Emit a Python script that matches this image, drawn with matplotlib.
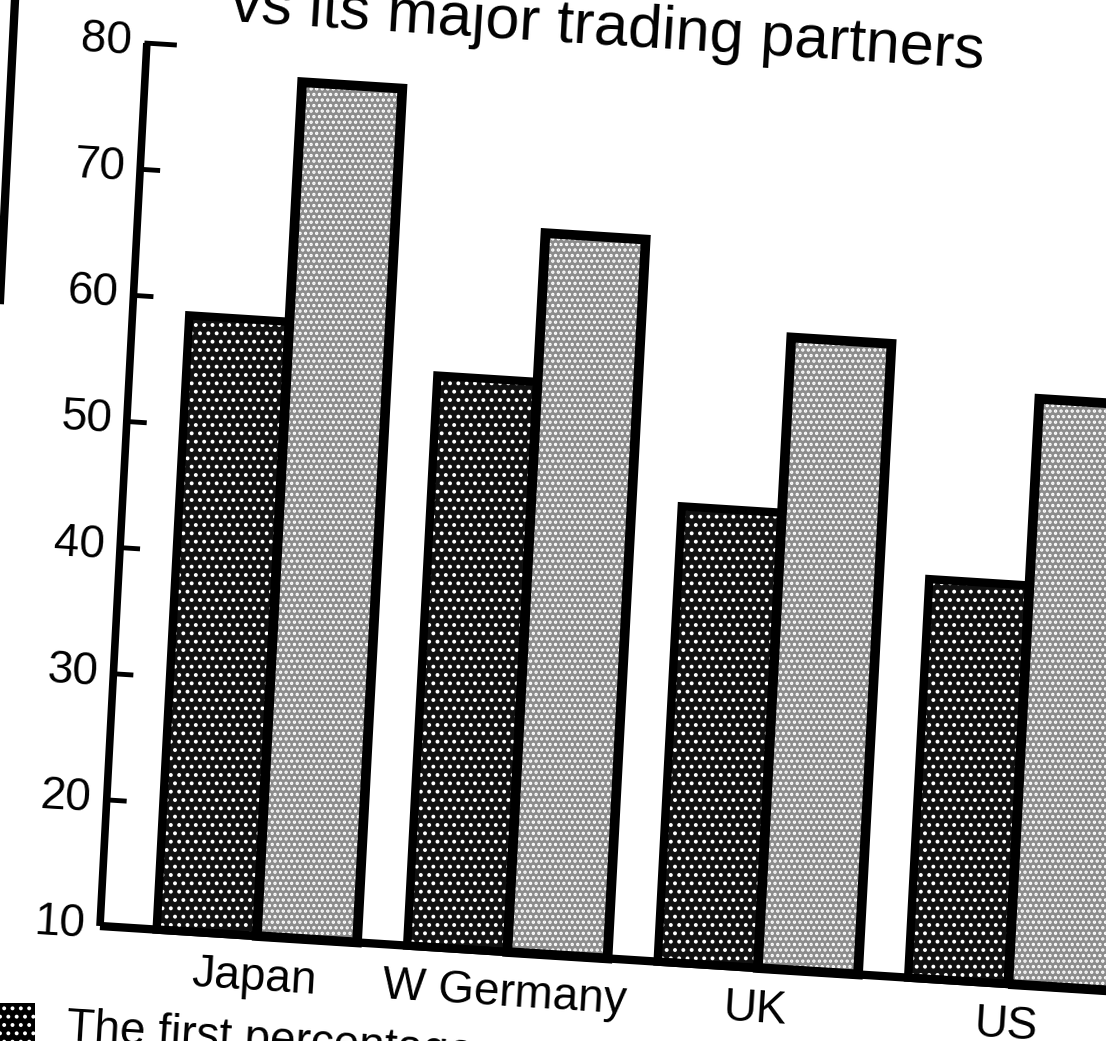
import matplotlib
matplotlib.use("Agg")
import matplotlib.pyplot as plt
from matplotlib.transforms import Affine2D
from matplotlib.patches import Rectangle
from matplotlib.lines import Line2D
import numpy as np

plt.rcParams['font.family'] = ['Liberation Sans', 'DejaVu Sans']
plt.rcParams['hatch.linewidth'] = 1.6

countries = ["Japan", "W Germany", "UK", "US"]
first = [58.7, 55.2, 46.1, 41.6]     # dark bars
second = [77.7, 67.0, 60.0, 56.4]    # light bars
yticks = [10, 20, 30, 40, 50, 60, 70, 80]

W, H = 1106, 1041
fig = plt.figure(figsize=(W / 100, H / 100), dpi=100)
ax = fig.add_axes([0, 0, 1, 1])
ax.axis('off')

# the scan is a bit askew, so everything goes through a small tilt
ox, oy = 100, H - 926          # pixel spot of the axis corner
xpx, ypx = 251, 12.63          # pixels per unit
x_axis = -0.626
ax.set_xlim(x_axis - ox / xpx, x_axis + (W - ox) / xpx)
ax.set_ylim(10 - oy / ypx, 10 + (H - oy) / ypx)

skew = Affine2D(np.array([[0.998, 0.053, 0], [-0.0638, 0.9986, 0], [0, 0, 1]]))
tilt = Affine2D().translate(-ox, -oy) + skew + Affine2D().translate(ox, oy)
T = ax.transData + tilt
rot = -3.6

x = np.arange(len(countries))
w = 0.4
d = np.array(first) - 10
l = np.array(second) - 10

ax.bar(x - w / 2, d, w, bottom=10, color='#111111', edgecolor='white', hatch='..',
       lw=0, transform=T, clip_on=False)
ax.bar(x + w / 2, l, w, bottom=10, color='#8c8c8c', edgecolor='white', hatch='...',
       lw=0, transform=T, clip_on=False)
ax.bar(x - w / 2, d, w, bottom=10, fill=False, edgecolor='black', lw=6,
       transform=T, clip_on=False)
ax.bar(x + w / 2, l, w, bottom=10, fill=False, edgecolor='black', lw=7,
       transform=T, clip_on=False)

# axis line, baseline and ticks
ax.plot([x_axis, x_axis], [yticks[0], yticks[-1]], color='black', lw=5.5,
        solid_capstyle='butt', transform=T, clip_on=False)
ax.plot([x_axis, ax.get_xlim()[1] + 0.5], [10, 10], color='black', lw=6,
        solid_capstyle='butt', transform=T, clip_on=False)
for t in yticks:
    tl = 0.11 if t == 80 else 0.07
    if t > 10:
        ax.plot([x_axis, x_axis + tl], [t, t], color='black', lw=3.5,
                transform=T, clip_on=False)
    ax.text(x_axis - 0.06, t, str(t), ha='right', va='center', fontsize=33,
            rotation=rot, rotation_mode='anchor', transform=T)

for i, c in enumerate(countries):
    ax.text(x[i], 10 - 1.6, c, ha='center', va='top', fontsize=33,
            rotation=rot, rotation_mode='anchor', transform=T)

ax.text(-0.30, 82.2, "vs its major trading partners", ha='left', va='baseline',
        fontsize=44, rotation=rot, rotation_mode='anchor', transform=T)

ax.text(-0.74, 0.82, "The first percentage", ha='left', va='baseline',
        fontsize=33, rotation=rot, rotation_mode='anchor', transform=T)

# bits of the page around the chart
fig.patches.append(Rectangle((0, 0), 35 / W, 38 / H, transform=fig.transFigure,
                             facecolor='black', edgecolor='white', hatch='..', lw=0))
fig.lines.append(Line2D([15 / W, 0], [1, 1 - 300 / H], transform=fig.transFigure,
                        color='black', lw=6))

fig.savefig("out.png", dpi=100)
